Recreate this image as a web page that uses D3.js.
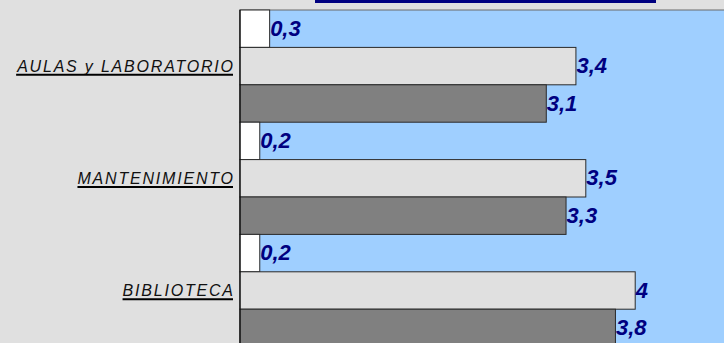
<!DOCTYPE html>
<html>
<head>
<meta charset="utf-8">
<script src="https://cdn.jsdelivr.net/npm/d3@7"></script>
<style>
  html, body { margin: 0; padding: 0; background: #e0e0e0; }
  svg { display: block; }
</style>
</head>
<body>
<svg id="chart" width="724" height="343"></svg>
<script>
// ---- data ----
const categories = ["AULAS y LABORATORIO", "MANTENIMIENTO", "BIBLIOTECA"];
const seriesNames = ["Serie 1", "Serie 2", "Serie 3"];
const serie1 = [0.3, 0.2, 0.2];
const serie2 = [3.4, 3.5, 4];
const serie3 = [3.1, 3.3, 3.8];
const seriesValues = [serie1, serie2, serie3];
const seriesColors = ["#ffffff", "#e0e0e0", "#808080"];

// ---- layout ----
const W = 724, H = 343;
const plotLeft = 240, plotTop = 10;
const unit = 98.8;       // px per unit
const groupH = 112.2;

const svg = d3.select("#chart");

svg.append("rect").attr("x", 0).attr("y", 0).attr("width", W).attr("height", H).attr("fill", "#e0e0e0");

const x = d3.scaleLinear().domain([0, 5]).range([plotLeft, plotLeft + 5 * unit]);
const y = d3.scaleBand().domain(categories).range([plotTop, plotTop + groupH * categories.length]).padding(0);
const ySub = d3.scaleBand().domain(seriesNames).range([0, y.bandwidth()]).padding(0);

// plot area
svg.append("rect")
  .attr("x", plotLeft).attr("y", plotTop)
  .attr("width", x.range()[1] - plotLeft + 10)
  .attr("height", y.range()[1] - plotTop + 10)
  .attr("fill", "#9fcfff")
  .attr("stroke", "#6b6b6b").attr("stroke-width", 1);

// title box fragment
svg.append("rect").attr("x", 315).attr("y", 0).attr("width", 341).attr("height", 3).attr("fill", "#000080");

const fmt = v => String(v).replace(".", ",");

const data = [];
categories.forEach((c, i) => {
  seriesNames.forEach((s, j) => {
    data.push({ cat: c, series: s, value: seriesValues[j][i], color: seriesColors[j] });
  });
});

const g = svg.append("g");
g.selectAll("rect.bar").data(data).join("rect")
  .attr("class", "bar")
  .attr("x", x(0))
  .attr("y", d => y(d.cat) + ySub(d.series))
  .attr("width", d => x(d.value) - x(0))
  .attr("height", ySub.bandwidth())
  .attr("fill", d => d.color)
  .attr("stroke", "#2a2a2a").attr("stroke-width", 1);

g.selectAll("text.val").data(data).join("text")
  .attr("class", "val")
  .attr("x", d => x(d.value) + 0.5)
  .attr("y", d => y(d.cat) + ySub(d.series) + ySub.bandwidth() / 2 + 7)
  .attr("font-family", "'Liberation Sans', Arial, sans-serif")
  .attr("font-size", 22)
  .attr("font-weight", "bold")
  .attr("font-style", "italic")
  .attr("fill", "#000080")
  .text(d => fmt(d.value));

// axis line
svg.append("line")
  .attr("x1", plotLeft).attr("x2", plotLeft)
  .attr("y1", plotTop).attr("y2", H + 5)
  .attr("stroke", "#000").attr("stroke-width", 1);

// category labels
const ls = 1.8;
const labels = svg.selectAll("g.cat").data(categories).join("g").attr("class", "cat");
labels.append("text")
  .attr("x", 233 + ls)
  .attr("y", d => y(d) + y.bandwidth() / 2 + 5.7)
  .attr("text-anchor", "end")
  .attr("font-family", "'Liberation Sans', Arial, sans-serif")
  .attr("font-size", 16)
  .attr("font-style", "italic")
  .attr("letter-spacing", ls + "px")
  .attr("fill", "#111")
  .text(d => d);
labels.each(function () {
  const t = d3.select(this).select("text");
  const bb = t.node().getBBox();
  const yy = +t.attr("y") + 3;
  d3.select(this).append("line")
    .attr("x1", bb.x).attr("x2", bb.x + bb.width - ls)
    .attr("y1", yy).attr("y2", yy)
    .attr("stroke", "#000").attr("stroke-width", 2);
});
</script>
</body>
</html>
